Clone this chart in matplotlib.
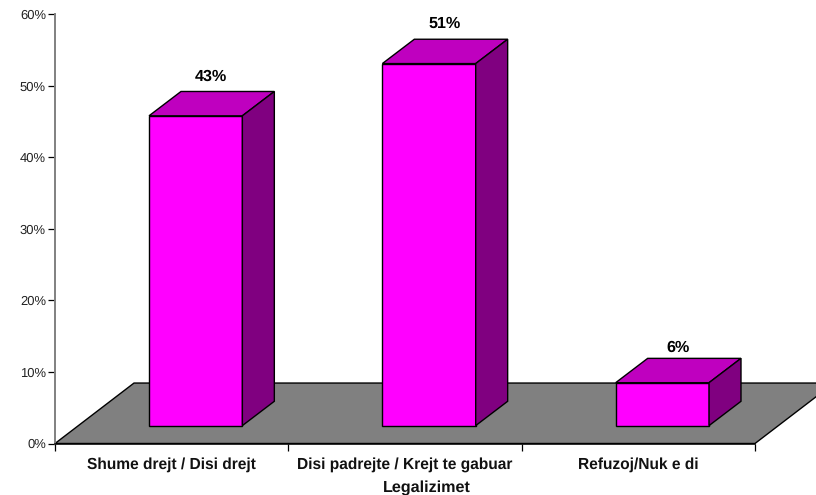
import matplotlib
matplotlib.use("Agg")
import matplotlib.pyplot as plt
from matplotlib.patches import Polygon

plt.rcParams['font.family'] = ['Liberation Sans', 'DejaVu Sans']
plt.rcParams['text.hinting'] = 'no_hinting'

categories = ["Shume drejt / Disi drejt", "Disi padrejte / Krejt te gabuar", "Refuzoj/Nuk e di"]
bar_heights = [43.3, 50.6, 6.0]
bar_labels = ["43%", "51%", "6%"]
y_ticks = [0, 10, 20, 30, 40, 50, 60]

W, H = 816, 495
fig = plt.figure(figsize=(W / 100, H / 100), dpi=100)
# axes box in pixels: x 55-755, y 14-443.5
ax = fig.add_axes([55 / W, (H - 443.5) / H, 700 / W, 429.3 / H])
ax.set_xlim(0, 3)
ax.set_ylim(0, 60)
ax.patch.set_visible(False)

# fake 3d depth in data units
floor_dx, floor_dy = 0.3386, 8.45
bar_dx, bar_dy = 0.137, 3.4
bar_left, bar_w = 0.403, 0.4
bar_base = 2.5


def poly(pts, color, z):
    ax.add_patch(Polygon(pts, closed=True, facecolor=color, edgecolor="black",
                         linewidth=1.0, joinstyle="miter", clip_on=False, zorder=z))


# floor
poly([(0, 0), (3, 0), (3 + floor_dx, floor_dy), (floor_dx, floor_dy)], "#808080", 1)

for i, h in enumerate(bar_heights):
    x0 = i + bar_left
    x1 = x0 + bar_w
    top = bar_base + h
    poly([(x0, bar_base), (x1, bar_base), (x1, top), (x0, top)], "#ff00ff", 3)
    poly([(x0, top), (x1, top), (x1 + bar_dx, top + bar_dy), (x0 + bar_dx, top + bar_dy)], "#bf00bf", 3)
    poly([(x1, bar_base), (x1 + bar_dx, bar_base + bar_dy), (x1 + bar_dx, top + bar_dy), (x1, top)], "#800080", 3)
    # label gap grows a little with bar height in the original
    ax.text(x0 + bar_w / 2 + bar_dx / 2 - 0.003, h * 1.016 + 7.28, bar_labels[i], ha="center", va="center",
            fontsize=11.6, fontweight="bold", color="black")

for s in ["top", "right"]:
    ax.spines[s].set_visible(False)
ax.spines["left"].set_color("#808080")
ax.spines["left"].set_linewidth(1.4)
ax.spines["bottom"].set_color("black")
ax.spines["bottom"].set_linewidth(1.1)

ax.set_yticks(y_ticks)
ax.set_yticklabels([f"{v}%" for v in y_ticks], fontsize=9.4)
ax.tick_params(axis="y", length=5, width=0.9, color="black", pad=1.5, labelcolor="#222222")

ax.set_xticks(range(4))
ax.set_xticklabels([])
ax.tick_params(axis="x", length=5, width=0.9, color="black")
for i, c in enumerate(categories):
    ax.text(i + 0.5, -3.0, c, ha="center", va="center", fontsize=11.2, fontweight="bold", color="#111111")
ax.text(1.594, -6.1, "Legalizimet", ha="center", va="center", fontsize=11.6, fontweight="bold", color="#111111")

fig.savefig("out.png", dpi=100)
